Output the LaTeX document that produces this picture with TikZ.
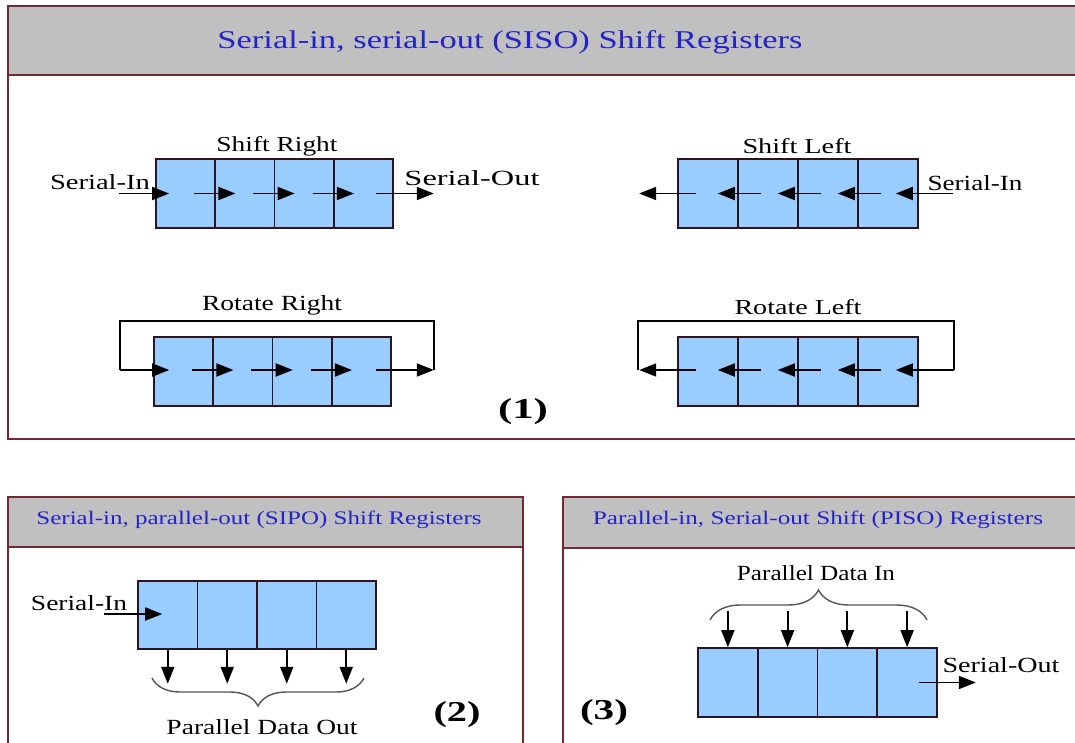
\documentclass[tikz,border=0pt]{standalone}
\usepackage{fontspec}
\setmainfont{Liberation Serif}
\usetikzlibrary{arrows.meta,decorations.pathreplacing,calc}
\definecolor{cellblue}{RGB}{153,204,255}
\definecolor{celledge}{RGB}{45,20,30}
\definecolor{paneledge}{RGB}{115,40,50}
\definecolor{headgray}{RGB}{192,192,192}
\definecolor{titleblue}{RGB}{35,35,200}
\definecolor{bracegray}{RGB}{85,85,85}
\newcommand\fitt[3]{\resizebox{#1pt}{#2pt}{#3}}
\tikzset{
  cell/.style={draw=celledge, fill=cellblue, line width=1.6pt, minimum height=69pt, inner sep=0pt},
  arr/.style={line width=1.8pt, draw=black, -{Triangle[length=17pt,width=13pt]}},
  loopline/.style={line width=1.8pt, draw=black},
  panel/.style={draw=paneledge, line width=1.8pt},
  head/.style={fill=headgray, draw=paneledge, line width=1.8pt},
  lbl/.style={inner sep=0pt, text=black},
  ttl/.style={inner sep=0pt, text=titleblue},
  num/.style={inner sep=0pt, text=black, font=\bfseries},
  brc/.style={draw=bracegray, line width=1.4pt, decorate},
}
\begin{document}
\begin{tikzpicture}[x=1pt,y=-1pt]
\clip (0,0) rectangle (1075,742);
\fill[white] (0,0) rectangle (1075,742);

% ---------- panel 1 ----------
\draw[head] (8,6) rectangle (1090,75);
\draw[panel] (8,75) -- (8,439) -- (1090,439);
\node[ttl] (t1) at (510,42) {\fitt{585}{18}{Serial-in, serial-out (SISO) Shift Registers}};

% Shift Right
\foreach \i in {1,...,4} \node[cell, minimum width=59.25pt] (A\i) at ({156+59.25*(\i-0.5)},193.5) {};
\node[lbl] (lA) at (277,146) {\fitt{121}{15}{Shift Right}};
\node[lbl] (inA) at (100,182) {\fitt{100}{15}{Serial-In}};
\node[lbl] (outA) at (472,178) {\fitt{135}{15}{Serial-Out}};
\draw[arr] ($(A1.west)+(-36,0)$) -- ($(A1.west)+(14,0)$);
\foreach \i/\j in {1/2,2/3,3/4} \draw[arr] ($(A\i.east)+(-22,0)$) -- ($(A\j.west)+(21,0)$);
\draw[arr] ($(A4.east)+(-18,0)$) -- ($(A4.east)+(40,0)$);

% Shift Left
\foreach \i in {1,...,4} \node[cell, minimum width=60pt] (B\i) at ({678+60*(\i-0.5)},193.5) {};
\node[lbl] (lB) at (797,146) {\fitt{109}{15}{Shift Left}};
\node[lbl] (inB) at (975,183) {\fitt{95}{15}{Serial-In}};
\draw[arr] ($(B4.east)+(34,0)$) -- ($(B4.east)+(-23,0)$);
\foreach \i/\j in {4/3,3/2,2/1} \draw[arr] ($(B\i.west)+(24,0)$) -- ($(B\j.east)+(-21,0)$);
\draw[arr] ($(B1.west)+(19,0)$) -- ($(B1.west)+(-38,0)$);

% Rotate Right
\foreach \i in {1,...,4} \node[cell, minimum width=59.25pt] (C\i) at ({154+59.25*(\i-0.5)},371.5) {};
\node[lbl] (lC) at (272,305) {\fitt{140}{15}{Rotate Right}};
\coordinate (Cr) at ($(C4.east)+(42,-1.5)$);
\coordinate (Cl) at ($(C1.west)+(-33,-1.5)$);
\draw[arr] ($(C4.east)+(-16,-1.5)$) -- (Cr);
\draw[loopline] (Cr) -- ($(Cr)+(0,-49)$) -- ($(Cl)+(0,-49)$) -- (Cl);
\draw[arr] (Cl) -- ($(C1.west)+(16,-1.5)$);
\foreach \i/\j in {1/2,2/3,3/4} \draw[arr] ($(C\i.east)+(-22,-1.5)$) -- ($(C\j.west)+(21,-1.5)$);

% Rotate Left
\foreach \i in {1,...,4} \node[cell, minimum width=60pt] (D\i) at ({678+60*(\i-0.5)},371.5) {};
\node[lbl] (lD) at (798,307) {\fitt{127}{15}{Rotate Left}};
\coordinate (Dr) at ($(D4.east)+(35,-1.5)$);
\coordinate (Dl) at ($(D1.west)+(-39,-1.5)$);
\draw[loopline] (Dl) -- ($(Dl)+(0,-49)$) -- ($(Dr)+(0,-49)$) -- (Dr);
\draw[arr] (Dr) -- ($(D4.east)+(-23,-1.5)$);
\foreach \i/\j in {4/3,3/2,2/1} \draw[arr] ($(D\i.west)+(24,-1.5)$) -- ($(D\j.east)+(-21,-1.5)$);
\draw[arr] ($(D1.west)+(19,-1.5)$) -- ($(D1.west)+(-38,-1.5)$);

\node[num] (n1) at (523,412) {\fitt{50}{20}{(1)}};

% ---------- panel 2 ----------
\draw[head] (8,497) rectangle (523,547);
\draw[panel] (8,547) -- (8,760);
\draw[panel] (523,547) -- (523,760);
\node[ttl] (t2) at (259,520) {\fitt{445}{13.5}{Serial-in, parallel-out (SIPO) Shift Registers}};
\foreach \i in {1,...,4} \node[cell, minimum width=59.5pt, minimum height=68pt] (E\i) at ({138+59.5*(\i-0.5)},615) {};
\node[lbl] (inE) at (79,603) {\fitt{96}{15}{Serial-In}};
\draw[arr] ($(E1.west)+(-33,-1)$) -- ($(E1.west)+(25,-1)$);
\foreach \i in {1,...,4} \draw[arr] (E\i.south) -- ($(E\i.south)+(0,34)$);
\draw[brc, decoration={brace, amplitude=28pt}] (364,678) -- (152,678);
\node[lbl] (oE) at (262,727) {\fitt{191}{15}{Parallel Data Out}};
\node[num] (n2) at (457,715) {\fitt{47}{20}{(2)}};

% ---------- panel 3 ----------
\draw[head] (563,497) rectangle (1090,548);
\draw[panel] (563,548) -- (563,760);
\node[ttl] (t3) at (818,520) {\fitt{450}{13.5}{Parallel-in, Serial-out Shift (PISO) Registers}};
\foreach \i in {1,...,4} \node[cell, minimum width=59.75pt] (F\i) at ({698+59.75*(\i-0.5)},682.5) {};
\foreach \i in {1,...,4} \draw[arr] ($(F\i.north)+(0,-36)$) -- (F\i.north);
\draw[brc, decoration={brace, amplitude=30pt}] (710,620) -- (927,620);
\node[lbl] (iF) at (816,573) {\fitt{158}{15}{Parallel Data In}};
\node[lbl] (outF) at (1001,665) {\fitt{117}{15}{Serial-Out}};
\draw[arr] ($(F4.east)+(-19,0)$) -- ($(F4.east)+(38,0)$);
\node[num] (n3) at (604,713) {\fitt{48}{20}{(3)}};
\end{tikzpicture}
\end{document}
